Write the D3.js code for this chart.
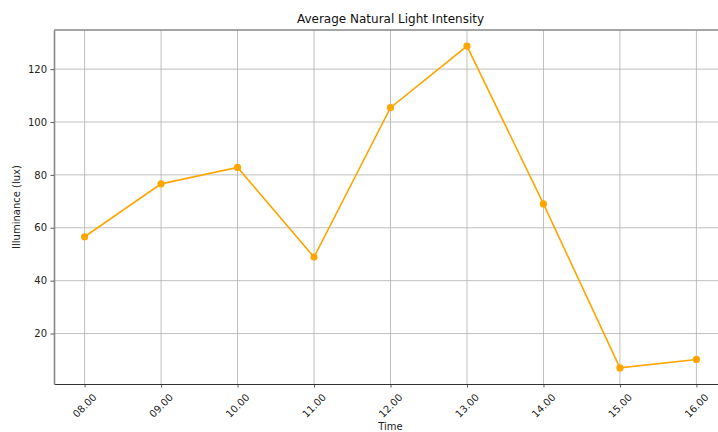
<!DOCTYPE html>
<html>
<head>
<meta charset="utf-8">
<script src="https://cdn.jsdelivr.net/npm/d3@7"></script>
<style>
  body { margin: 0; background: #fff; }
  svg { display: block; font-family: "DejaVu Sans", sans-serif; }
</style>
</head>
<body>
<svg id="chart" width="718" height="432"></svg>
<script>
const times = ["08.00", "09.00", "10.00", "11.00", "12.00", "13.00", "14.00", "15.00", "16.00"];
const illuminance = [56.6, 76.6, 82.8, 48.9, 105.4, 128.7, 69.0, 7.0, 10.2];
const yTicks = [20, 40, 60, 80, 100, 120];
const title = "Average Natural Light Intensity";
const xLabel = "Time";
const yLabel = "Illuminance (lux)";

(function () {
const svg = d3.select("#chart");
const mLeft = 54, mRight = 727, mTop = 30, mBottom = 384;
const FONT = "DejaVu Sans, sans-serif";

const x = d3.scaleLinear().domain([-0.4, times.length - 1 + 0.4]).range([mLeft, mRight]);
const yMin = d3.min(illuminance), yMax = d3.max(illuminance);
const pad = (yMax - yMin) * 0.05;
const y = d3.scaleLinear().domain([yMin - pad, yMax + pad]).range([mBottom, mTop]);

const grid = svg.append("g");
grid.selectAll("line.vx").data(times).join("line")
  .attr("x1", (d, i) => x(i)).attr("x2", (d, i) => x(i))
  .attr("y1", mTop).attr("y2", mBottom)
  .attr("stroke", "#b0b0b0").attr("stroke-width", 0.8);
grid.selectAll("line.hy").data(yTicks).join("line")
  .attr("x1", mLeft).attr("x2", mRight)
  .attr("y1", d => y(d)).attr("y2", d => y(d))
  .attr("stroke", "#b0b0b0").attr("stroke-width", 0.8);

const xAxis = d3.axisBottom(x).tickValues(d3.range(times.length)).tickFormat(i => times[i])
  .tickSize(3.5).tickSizeOuter(0).tickPadding(3);
const gx = svg.append("g").attr("transform", `translate(0,${mBottom})`).call(xAxis)
  .attr("font-family", FONT).attr("font-size", 10);
gx.select(".domain").attr("stroke", "#333").attr("stroke-width", 1.2);
gx.selectAll(".tick line").attr("stroke", "#333").attr("stroke-width", 0.8);
gx.selectAll(".tick text")
  .attr("fill", "#222")
  .attr("text-anchor", "middle")
  .attr("dy", null).attr("y", 0)
  .attr("transform", "translate(0,22) rotate(-45)")
  .attr("dominant-baseline", "middle");

const yAxis = d3.axisLeft(y).tickValues(yTicks).tickSize(3.5).tickSizeOuter(0).tickPadding(3.5);
const gy = svg.append("g").attr("transform", `translate(${mLeft},0)`).call(yAxis)
  .attr("font-family", FONT).attr("font-size", 10);
gy.select(".domain").attr("stroke", "#888").attr("stroke-width", 1.6);
gy.selectAll(".tick line").attr("stroke", "#333").attr("stroke-width", 0.8);
gy.selectAll(".tick text").attr("fill", "#222");

svg.append("line").attr("x1", mLeft).attr("x2", mRight).attr("y1", mTop).attr("y2", mTop)
  .attr("stroke", "#888").attr("stroke-width", 1.6);

const line = d3.line().x((d, i) => x(i)).y(d => y(d));
svg.append("path").datum(illuminance).attr("d", line)
  .attr("fill", "none").attr("stroke", "#FFA500").attr("stroke-width", 1.6);
svg.selectAll("circle.pt").data(illuminance).join("circle")
  .attr("cx", (d, i) => x(i)).attr("cy", d => y(d)).attr("r", 3.6)
  .attr("fill", "#FFA500");

svg.append("text").attr("x", (mLeft + mRight) / 2).attr("y", 23).attr("text-anchor", "middle")
  .attr("font-size", 12).attr("fill", "#111").text(title);
svg.append("text").attr("x", (mLeft + mRight) / 2).attr("y", 430).attr("text-anchor", "middle")
  .attr("font-size", 10).attr("fill", "#222").text(xLabel);
svg.append("text").attr("transform", `translate(20,${(mTop + mBottom) / 2}) rotate(-90)`).attr("text-anchor", "middle")
  .attr("font-size", 10).attr("fill", "#222").text(yLabel);
})();
</script>
</body>
</html>
